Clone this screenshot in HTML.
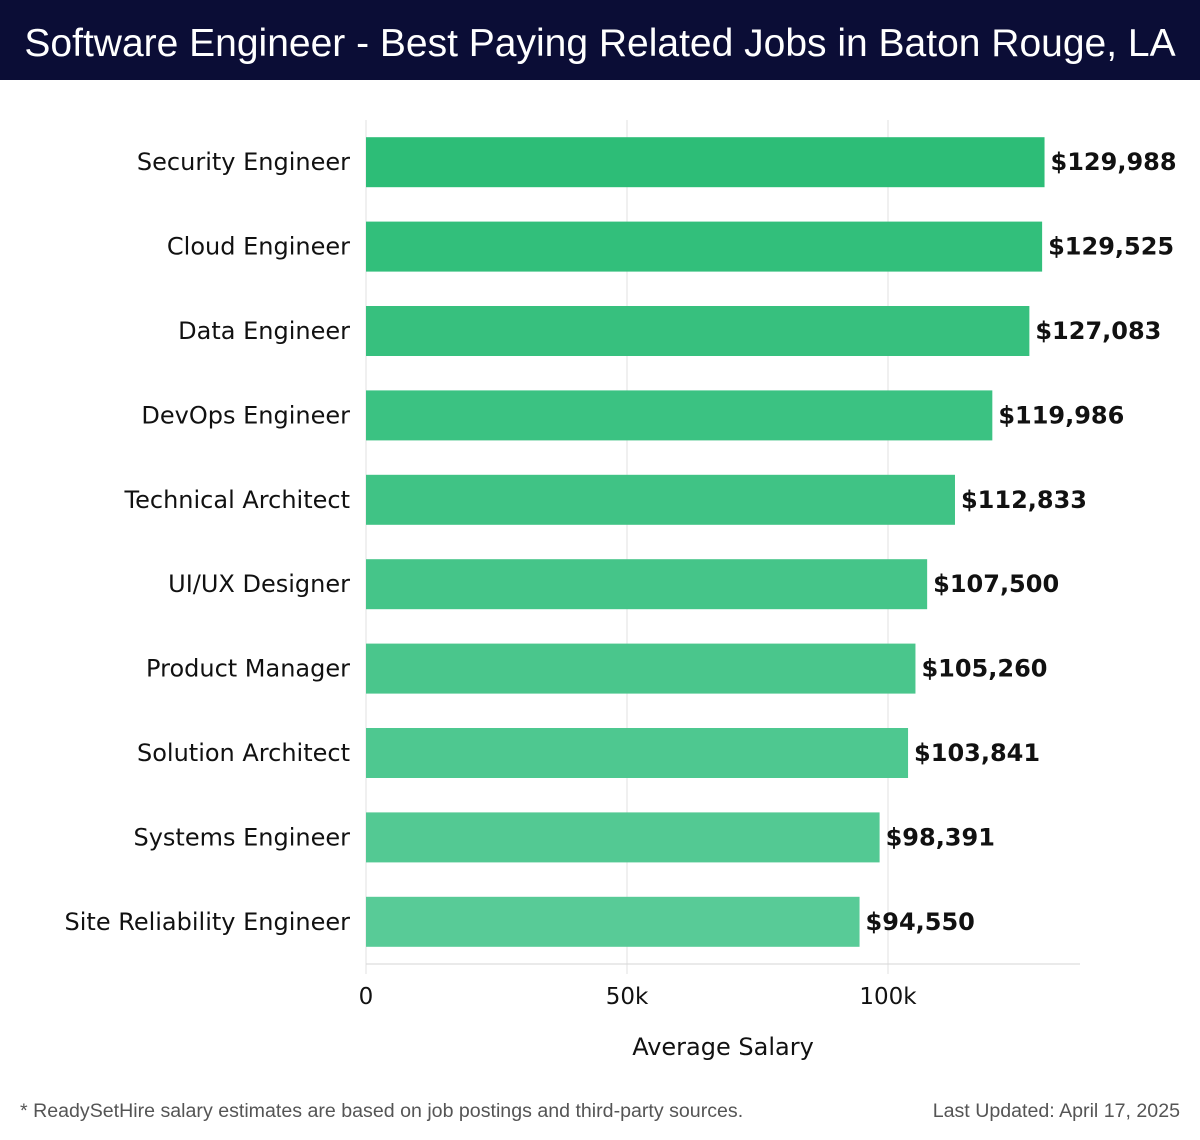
<!DOCTYPE html>
<html><head><meta charset="utf-8">
<style>
body{margin:0;width:1200px;height:1140px;background:#fff;font-family:"DejaVu Sans","Liberation Sans",sans-serif;overflow:hidden}
#title{position:absolute;left:0;top:0;width:1200px;height:80px;background:#0b0d36;color:#fff;font-size:39px;line-height:88px;text-align:center;font-family:"Liberation Sans",sans-serif}
svg{position:absolute;left:0;top:0}
.foot{position:absolute;top:1100px;font-size:19.6px;color:#555;font-family:"Liberation Sans",sans-serif}
</style></head><body>
<div id="title">Software Engineer - Best Paying Related Jobs in Baton Rouge, LA</div>
<svg id="chart" width="1200" height="1140"></svg>
<div class="foot" style="left:20px">* ReadySetHire salary estimates are based on job postings and third-party sources.</div>
<div class="foot" style="right:20px">Last Updated: April 17, 2025</div>
<script>
const categories=["Security Engineer","Cloud Engineer","Data Engineer","DevOps Engineer","Technical Architect","UI/UX Designer","Product Manager","Solution Architect","Systems Engineer","Site Reliability Engineer"];
const salaries=[129988,129525,127083,119986,112833,107500,105260,103841,98391,94550];
const tickValues=[0,50000,100000];
const tickLabels=["0","50k","100k"];
const NS="http://www.w3.org/2000/svg";
const svg=document.getElementById('chart');
const x0=366,pxPer=261/50000,top0=120,band=84.4,barH=50,axisY=964,axisEnd=1080;
const xs=v=>x0+v*pxPer;
const yb=i=>top0+i*band+(band-barH)/2;
function mk(t,a){const e=document.createElementNS(NS,t);for(const k in a)e.setAttribute(k,a[k]);svg.appendChild(e);return e;}
tickValues.forEach((v,i)=>{
 const g=mk('line',{x1:xs(v),x2:xs(v),y1:top0,y2:axisY+10,stroke:'#e2e2e2','stroke-width':1});
 
 
 const t=mk('text',{x:xs(v),y:1004,'text-anchor':'middle','font-size':23,fill:'#111'});
 t.textContent=tickLabels[i];
 
 
});
const ax=mk('line',{x1:x0,x2:axisEnd,y1:axisY,y2:axisY,stroke:'#d6d6d6','stroke-width':1});


const c0=[45,189,119],c1=[88,203,151];
categories.forEach((c,i)=>{
 const f=i/(categories.length-1);
 const col='rgb('+c0.map((v,k)=>Math.round(v+(c1[k]-v)*f)).join(',')+')';
 const r=mk('rect',{x:x0,y:yb(i),width:xs(salaries[i])-x0,height:barH,fill:col});
 
 
 const l=mk('text',{x:350,y:yb(i)+barH/2+8,'text-anchor':'end','font-size':24,fill:'#111'});
 l.textContent=c;
 
 
 const v=mk('text',{x:xs(salaries[i])+6,y:yb(i)+barH/2+8,'font-size':24,'font-weight':'bold',fill:'#111'});
 v.textContent='$'+salaries[i].toLocaleString('en-US');
 
 
});
const at=mk('text',{x:723,y:1055,'text-anchor':'middle','font-size':24,fill:'#111'});
at.textContent='Average Salary';


</script>
</body></html>
